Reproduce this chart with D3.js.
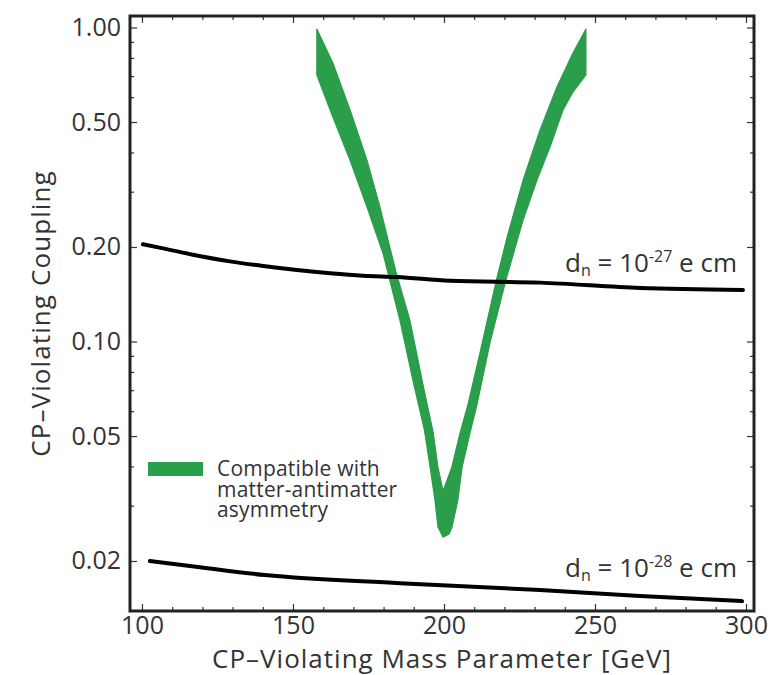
<!DOCTYPE html>
<html>
<head>
<meta charset="utf-8">
<script src="https://cdn.jsdelivr.net/npm/d3@7"></script>
<style>
  html, body { margin: 0; padding: 0; background: #fff; }
  svg { display: block; font-family: "Open Sans", sans-serif; }
</style>
</head>
<body>
<svg id="chart" width="780" height="675"></svg>
<script>
// ---- Data ----
// Lower edge of the "compatible" band (outer V), mass [GeV] and coupling
const bandLowerMass = [157.9, 163.2, 168.9, 174.5, 179.8, 185.4, 189.7, 193.5, 195.4, 197.0, 198.0, 199.7, 201.7, 202.6, 204.6, 206.0, 208.6, 210.9, 215.2, 220.5, 226.2, 230.8, 235.1, 239.4, 242.7, 247.0];
const bandLowerCoup = [0.706, 0.519, 0.378, 0.268, 0.191, 0.117, 0.0754, 0.0523, 0.0398, 0.0313, 0.02566, 0.0238, 0.0244, 0.0255, 0.0313, 0.0398, 0.0511, 0.0628, 0.0989, 0.157, 0.244, 0.327, 0.416, 0.546, 0.623, 0.706];
// Upper edge of the band (inner V)
const bandUpperMass = [157.9, 163.2, 168.9, 174.5, 178.8, 184.1, 188.7, 193.4, 196.4, 198.0, 199.7, 202.6, 205.3, 207.9, 211.9, 217.5, 220.9, 226.2, 231.8, 237.4, 242.7, 247.0];
const bandUpperCoup = [0.989, 0.771, 0.546, 0.378, 0.268, 0.1665, 0.117, 0.0701, 0.0515, 0.0398, 0.0334, 0.0398, 0.0511, 0.0628, 0.0919, 0.159, 0.215, 0.327, 0.472, 0.646, 0.829, 0.989];

// EDM limit line d_n = 1e-27 e cm
const edm27Mass = [100.3, 107, 116.9, 129.1, 140.1, 151.3, 162.3, 173.2, 184.4, 202, 231.8, 264.9, 299];
const edm27Coup = [0.204, 0.198, 0.189, 0.180, 0.174, 0.169, 0.165, 0.162, 0.1605, 0.156, 0.154, 0.148, 0.146];
// EDM limit line d_n = 1e-28 e cm
const edm28Mass = [102.6, 119.2, 140.7, 185.4, 231.8, 264.9, 298.7];
const edm28Coup = [0.0200, 0.0191, 0.01804, 0.0170, 0.01617, 0.01547, 0.0149];

// Axis ticks
const xMajorTicks = [100, 150, 200, 250, 300];
const xMinorTicks = [110, 120, 130, 140, 160, 170, 180, 190, 210, 220, 230, 240, 260, 270, 280, 290];
const yMajorTicks = [1.0, 0.5, 0.2, 0.1, 0.05, 0.02];
const yMajorLabels = ["1.00", "0.50", "0.20", "0.10", "0.05", "0.02"];
const yMinorTicks = [0.9, 0.8, 0.7, 0.6, 0.4, 0.3, 0.09, 0.08, 0.07, 0.06, 0.04, 0.03];

const xTitle = "CP–Violating Mass Parameter [GeV]";
const yTitle = "CP–Violating Coupling";
const legendLines = ["Compatible with", "matter-antimatter", "asymmetry"];

// ---- Layout ----
const plot = { left: 130, right: 754, top: 16, bottom: 611 };
const green = "#2a9e4a";
const textColor = "#333";

const svg = d3.select("#chart");

const x = d3.scaleLinear().domain([96.03, 302.65]).range([plot.left, plot.right]);
const y = d3.scaleLog().domain([0.01386, 1.088]).range([plot.bottom, plot.top]);

// Band polygon
const lowerPts = bandLowerMass.map((m, i) => [m, bandLowerCoup[i]]);
const upperPts = bandUpperMass.map((m, i) => [m, bandUpperCoup[i]]).reverse();
const bandPts = lowerPts.concat(upperPts);
const bandLine = d3.line().x(d => x(d[0])).y(d => y(d[1])).curve(d3.curveLinearClosed);
svg.append("path").attr("d", bandLine(bandPts)).attr("fill", green)
  .attr("stroke", green).attr("stroke-width", 1.2).attr("stroke-linejoin", "round");

// EDM lines
const lineGen = d3.line().x(d => x(d[0])).y(d => y(d[1])).curve(d3.curveMonotoneX);
svg.append("path")
  .attr("d", lineGen(edm27Mass.map((m, i) => [m, edm27Coup[i]])))
  .attr("fill", "none").attr("stroke", "#000").attr("stroke-width", 4).attr("stroke-linecap", "round");
svg.append("path")
  .attr("d", lineGen(edm28Mass.map((m, i) => [m, edm28Coup[i]])))
  .attr("fill", "none").attr("stroke", "#000").attr("stroke-width", 4).attr("stroke-linecap", "round");

// Axes with inward ticks
const tickColor = "#333";
function drawAxis(axis, transform) {
  const g = svg.append("g").attr("transform", transform).call(axis);
  g.select(".domain").remove();
  g.selectAll(".tick line").attr("stroke", tickColor).attr("stroke-width", 1.2);
  return g;
}
// bottom major with labels
const gxB = drawAxis(d3.axisBottom(x).tickValues(xMajorTicks).tickSize(-7).tickPadding(5).tickFormat(d3.format("d")),
  `translate(0,${plot.bottom})`);
gxB.selectAll("text").attr("font-size", 25).attr("fill", textColor).attr("font-family", "Open Sans");
drawAxis(d3.axisBottom(x).tickValues(xMinorTicks).tickSize(-4).tickFormat(""), `translate(0,${plot.bottom})`);
// top
drawAxis(d3.axisTop(x).tickValues(xMajorTicks).tickSize(-7).tickFormat(""), `translate(0,${plot.top})`);
drawAxis(d3.axisTop(x).tickValues(xMinorTicks).tickSize(-4).tickFormat(""), `translate(0,${plot.top})`);
// left
const gyL = drawAxis(d3.axisLeft(y).tickValues(yMajorTicks).tickSize(-7).tickPadding(9)
  .tickFormat((d, i) => yMajorLabels[i]), `translate(${plot.left},0)`);
gyL.selectAll("text").attr("font-size", 25).attr("fill", textColor).attr("font-family", "Open Sans");
drawAxis(d3.axisLeft(y).tickValues(yMinorTicks).tickSize(-4).tickFormat(""), `translate(${plot.left},0)`);
// right
drawAxis(d3.axisRight(y).tickValues(yMajorTicks).tickSize(-7).tickFormat(""), `translate(${plot.right},0)`);
drawAxis(d3.axisRight(y).tickValues(yMinorTicks).tickSize(-4).tickFormat(""), `translate(${plot.right},0)`);

// Frame
svg.append("rect")
  .attr("x", plot.left).attr("y", plot.top)
  .attr("width", plot.right - plot.left).attr("height", plot.bottom - plot.top)
  .attr("fill", "none").attr("stroke", "#222").attr("stroke-width", 3);

// Axis titles
svg.append("text")
  .attr("x", 442).attr("y", 668)
  .attr("text-anchor", "middle").attr("font-size", 26).attr("letter-spacing", 1.0).attr("fill", textColor)
  .text(xTitle);
svg.append("text")
  .attr("transform", `translate(50,${(plot.top + plot.bottom) / 2}) rotate(-90)`)
  .attr("text-anchor", "middle").attr("font-size", 26).attr("letter-spacing", 1.1).attr("fill", textColor)
  .text(yTitle);

// EDM annotations
function edmLabel(yBase, exp) {
  const t = svg.append("text")
    .attr("x", 737).attr("y", yBase)
    .attr("text-anchor", "end").attr("font-size", 26).attr("fill", textColor);
  t.append("tspan").text("d");
  t.append("tspan").attr("font-size", 16).attr("dy", 4).text("n");
  t.append("tspan").attr("dy", -4).text(" = 10");
  t.append("tspan").attr("font-size", 16).attr("dy", -10).text(exp);
  t.append("tspan").attr("dy", 10).text(" e cm");
}
edmLabel(272, "-27");
edmLabel(577, "-28");

// Legend
svg.append("rect").attr("x", 148).attr("y", 462).attr("width", 55).attr("height", 14).attr("fill", green);
svg.append("g").selectAll("text").data(legendLines).join("text")
  .attr("x", 217).attr("y", (d, i) => 476 + i * 20.5)
  .attr("font-size", 21).attr("letter-spacing", 0.2).attr("fill", textColor)
  .text(d => d);
</script>
</body>
</html>
